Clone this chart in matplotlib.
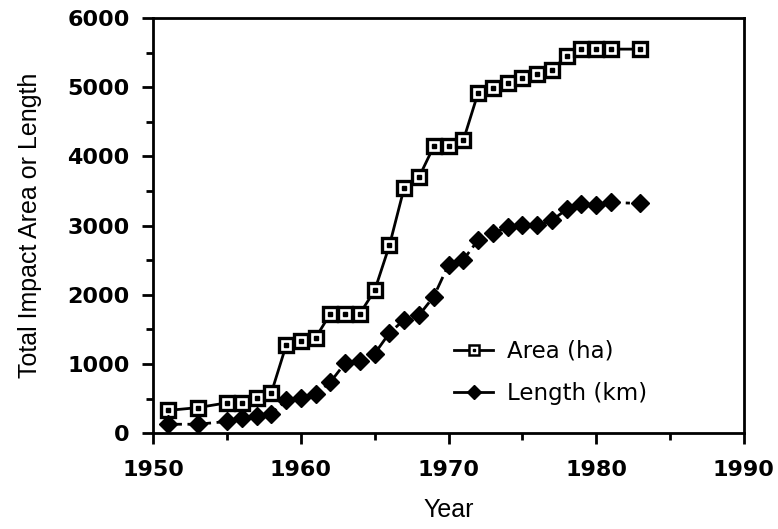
import matplotlib
matplotlib.use('Agg')
import matplotlib.pyplot as plt
from matplotlib.ticker import MultipleLocator
from matplotlib.lines import Line2D
from matplotlib.legend_handler import HandlerTuple

# values
area_years = [1951, 1953, 1955, 1956, 1957, 1958, 1959, 1960, 1961, 1962, 1963, 1964,
              1965, 1966, 1967, 1968, 1969, 1970, 1971, 1972, 1973, 1974, 1975, 1976,
              1977, 1978, 1979, 1980, 1981, 1983]
area_ha = [330, 370, 440, 440, 515, 585, 1270, 1340, 1380, 1730, 1730, 1730,
           2065, 2715, 3550, 3700, 4145, 4145, 4230, 4915, 4990, 5065, 5140, 5190,
           5255, 5445, 5550, 5550, 5550, 5550]

length_years = [1951, 1953, 1955, 1956, 1957, 1958, 1959, 1960, 1961, 1962, 1963, 1964,
                1965, 1966, 1967, 1968, 1969, 1970, 1971, 1972, 1973, 1974, 1975, 1976,
                1977, 1978, 1979, 1980, 1981, 1983]
length_km = [130, 130, 170, 225, 255, 285, 475, 515, 570, 740, 1015, 1045,
             1150, 1450, 1640, 1705, 1975, 2435, 2505, 2790, 2890, 2975, 3010, 3005,
             3075, 3235, 3310, 3305, 3335, 3320]

fig = plt.figure(figsize=(7.78, 5.29), dpi=100)
ax = fig.add_axes([0.197, 0.181, 0.759, 0.785])

ax.plot(area_years, area_ha, color='black', linewidth=2,
        marker='s', markersize=10.5, markerfacecolor='white',
        markeredgecolor='black', markeredgewidth=2.4, zorder=3)
ax.plot(area_years, area_ha, linestyle='none', marker='s',
        markersize=2.5, color='black', zorder=4)
ax.plot(length_years, length_km, color='black', linewidth=2,
        linestyle=(0, (5, 2, 1.5, 2)), marker='D', markersize=9,
        markerfacecolor='black', markeredgecolor='black', zorder=3)

ax.set_xlim(1950, 1990)
ax.set_ylim(0, 6000)
ax.xaxis.set_major_locator(MultipleLocator(10))
ax.xaxis.set_minor_locator(MultipleLocator(5))
ax.yaxis.set_major_locator(MultipleLocator(1000))
ax.yaxis.set_minor_locator(MultipleLocator(500))

for s in ax.spines.values():
    s.set_linewidth(2)
ax.tick_params(which='major', direction='out', length=8, width=2,
               labelsize=16)
ax.tick_params(axis='x', which='major', pad=11)
ax.tick_params(axis='y', which='major', pad=9)
ax.tick_params(which='minor', direction='out', length=5, width=2)
for lab in ax.get_xticklabels() + ax.get_yticklabels():
    lab.set_fontweight('bold')

ax.set_xlabel('Year', fontsize=18, family='Liberation Sans', labelpad=13)
ax.set_ylabel('Total Impact Area or Length', fontsize=18,
              family='Liberation Sans', labelpad=18)

# legend proxies: solid short lines, as in the original key
area_key = Line2D([], [], color='black', linewidth=2, marker='s', markersize=7,
                  markerfacecolor='white', markeredgecolor='black',
                  markeredgewidth=1.8)
area_key_dot = Line2D([], [], linestyle='none', marker='s', markersize=1.8,
                      color='black')
length_key = Line2D([], [], color='black', linewidth=2, marker='D', markersize=7)

ax.legend([(area_key, area_key_dot), length_key], ['Area (ha)', 'Length (km)'],
          handler_map={tuple: HandlerTuple(ndivide=1)},
          loc='upper left', bbox_to_anchor=(0.475, 0.275), frameon=False,
          fontsize=16.5, handlelength=1.7, handletextpad=0.6, labelspacing=0.85)

fig.savefig('out.png', dpi=100)
